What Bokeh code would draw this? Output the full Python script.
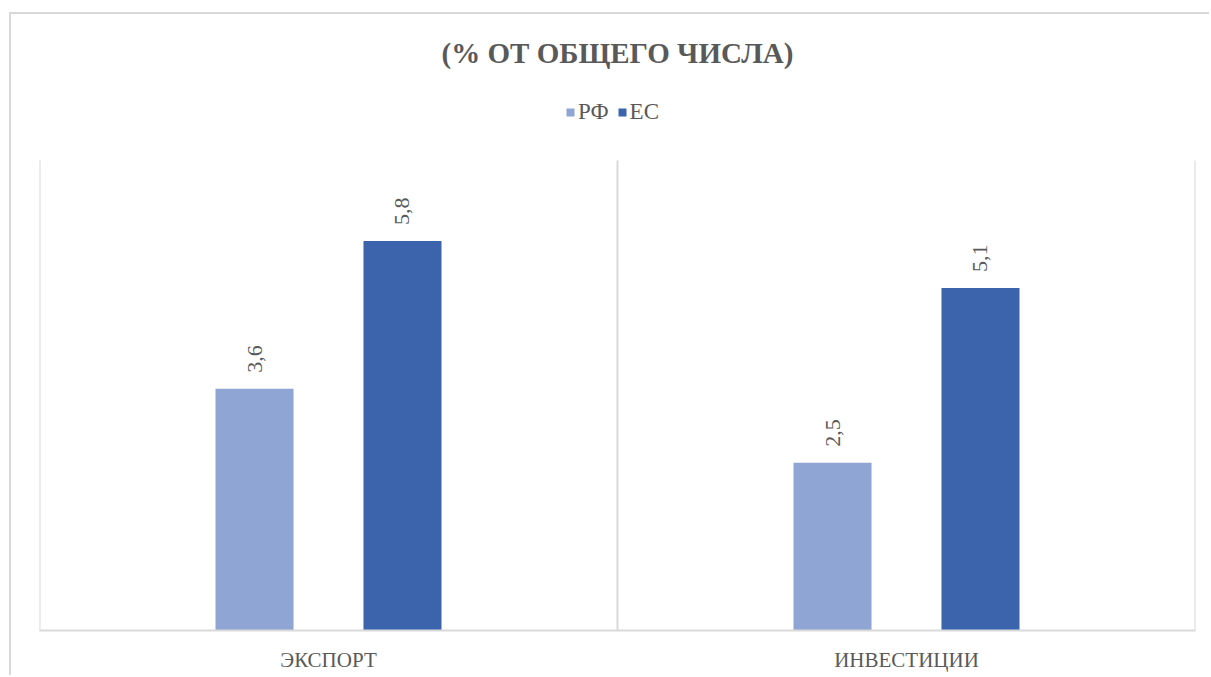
import math
from bokeh.plotting import figure
from bokeh.models import (ColumnDataSource, FactorRange, Range1d, Label,
                          LabelSet, Legend, LegendItem, InlineStyleSheet)
from bokeh.transform import dodge
from bokeh.embed import file_html
from bokeh.resources import INLINE

categories = ["ЭКСПОРТ", "ИНВЕСТИЦИИ"]
series_names = ["РФ", "ЕС"]
rf_values = [3.6, 2.5]
eu_values = [5.8, 5.1]
rf_labels = ["3,6", "2,5"]
eu_labels = ["5,8", "5,1"]
title_text = "(% ОТ ОБЩЕГО ЧИСЛА)"

RF_COLOR = "#8FA5D4"
EU_COLOR = "#3B64AD"
TEXT = "#595959"
GRID = "#D9D9D9"
FONT = "Liberation Serif"

# plot area geometry (pixels)
FRAME_TOP_PAD = 146   # space above value axis max for title + legend
AREA_H = 470          # height of value area (0..7)
Y_MAX = 7.0
y_top = Y_MAX * (AREA_H + FRAME_TOP_PAD) / AREA_H

src = ColumnDataSource(dict(cat=categories, rf=rf_values, eu=eu_values,
                            rfl=rf_labels, eul=eu_labels))

p = figure(width=1200, height=663, x_range=FactorRange(*categories),
           y_range=Range1d(0, y_top), output_backend="svg", toolbar_location=None,
           y_axis_location=None, title_location=None,
           min_border_left=28, min_border_right=16,
           min_border_top=0, min_border_bottom=47)
p.margin = (12, 0, 0, 9)
p.styles = {"border-top": "2px solid #D9D9D9", "border-left": "2px solid #D9D9D9"}
# letter-spaced title and category labels (as in the original chart)
p.stylesheets = [InlineStyleSheet(css=(
    'text[font-size="29px"]{letter-spacing:5px;}'
    'text[font-size="21px"]{letter-spacing:3px;}'))]
p.outline_line_color = None
p.xgrid.visible = False
p.ygrid.visible = False

# category separators (plot-area vertical lines)
bounds = list(range(len(categories) + 1))
p.segment(x0=bounds, y0=[0] * len(bounds), x1=bounds, y1=[Y_MAX] * len(bounds),
          line_color=GRID, line_width=2)

off = 0.128
w = 0.135
r1 = p.vbar(x=dodge("cat", -off, range=p.x_range), top="rf", width=w, source=src,
            fill_color=RF_COLOR, line_color=None)
r2 = p.vbar(x=dodge("cat", off, range=p.x_range), top="eu", width=w, source=src,
            fill_color=EU_COLOR, line_color=None)

for col, lab, o in [("rf", "rfl", -off), ("eu", "eul", off)]:
    p.add_layout(LabelSet(x=dodge("cat", o, range=p.x_range), y=col, text=lab, source=src,
                          angle=math.pi / 2, text_align="left", text_baseline="middle",
                          y_offset=16, text_font=FONT, text_font_size="22px",
                          text_color=TEXT))

p.xaxis.axis_line_color = GRID
p.xaxis.axis_line_width = 2
p.xaxis.major_tick_line_color = None
p.xaxis.minor_tick_line_color = None
p.xaxis.major_label_standoff = 11
p.xaxis.major_label_text_font = FONT
p.xaxis.major_label_text_font_size = "21px"
p.xaxis.major_label_text_color = TEXT

# title, inside the plot frame above the value area
p.add_layout(Label(x=len(categories) / 2, y=Y_MAX, y_offset=108, text=title_text,
                   text_align="center", text_baseline="middle", text_font=FONT,
                   text_font_size="29px", text_font_style="bold", text_color=TEXT))

legend = Legend(items=[LegendItem(label=series_names[0], renderers=[r1]),
                       LegendItem(label=series_names[1], renderers=[r2])],
                orientation="horizontal", location=(526, AREA_H + 35),
                label_text_font=FONT, label_text_font_size="23px",
                label_text_color=TEXT, glyph_width=10, glyph_height=10,
                label_standoff=3, spacing=8, padding=0, margin=0,
                border_line_color=None, background_fill_alpha=0)
p.add_layout(legend, "center")

open("out.html", "w").write(file_html(p, INLINE))
